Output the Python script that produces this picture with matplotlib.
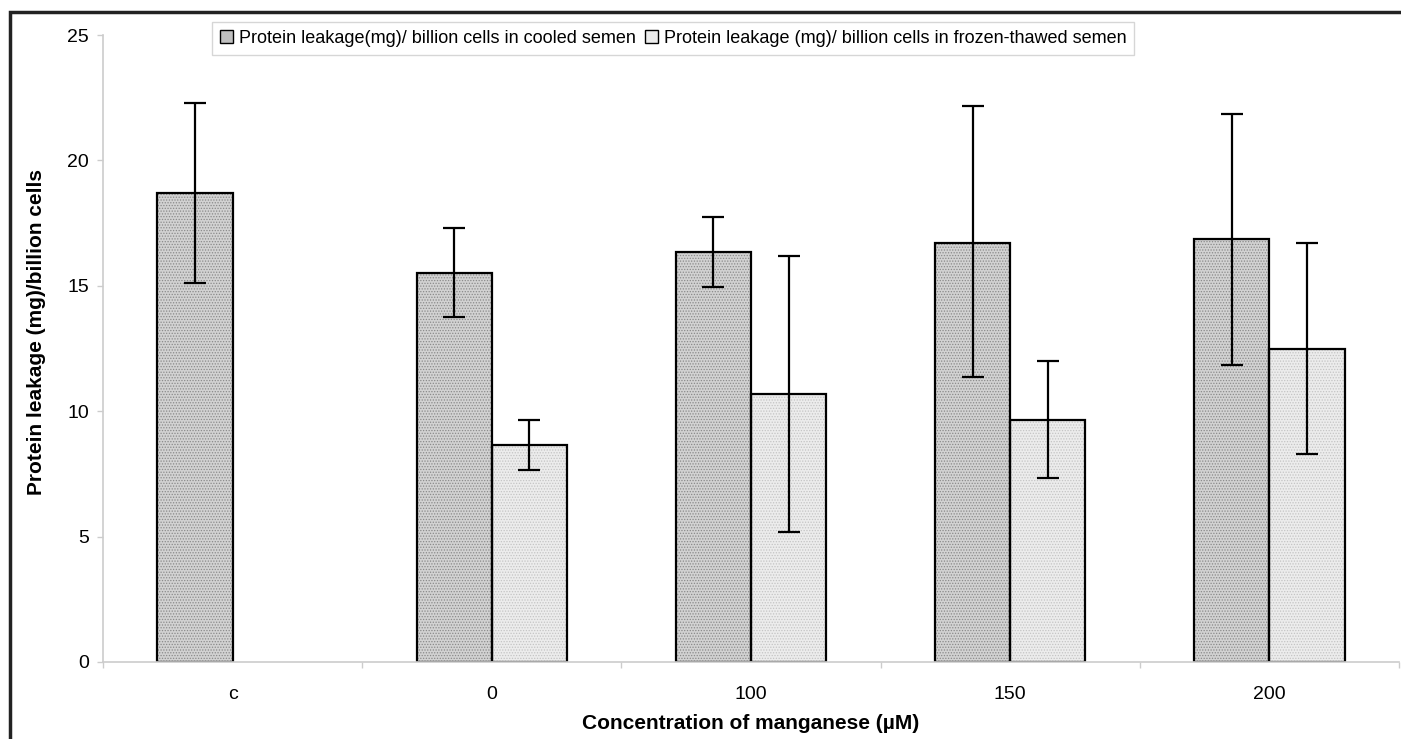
import matplotlib
matplotlib.use("Agg")
import matplotlib.pyplot as plt
from matplotlib.patches import Rectangle, Patch
import numpy as np

plt.rcParams["font.family"] = ["Liberation Sans", "DejaVu Sans"]
plt.rcParams["hatch.linewidth"] = 0.6

categories = ["c", "0", "100", "150", "200"]
cooled = [18.7, 15.5, 16.35, 16.7, 16.85]
cooled_hi = [22.3, 17.3, 17.75, 22.15, 21.85]
cooled_lo = [15.1, 13.75, 14.95, 11.35, 11.85]
frozen = [np.nan, 8.65, 10.7, 9.65, 12.5]
frozen_hi = [np.nan, 9.65, 16.2, 12.0, 16.7]
frozen_lo = [np.nan, 7.65, 5.2, 7.35, 8.3]

label_cooled = "Protein leakage(mg)/ billion cells in cooled semen"
label_frozen = "Protein leakage (mg)/ billion cells in frozen-thawed semen"

fig = plt.figure(figsize=(14.01, 7.39), dpi=100)
ax = fig.add_axes([103 / 1401, 77 / 739, 1296 / 1401, 627 / 739])

x = np.arange(len(categories))
w = 0.29

c_err = [np.array(cooled) - np.array(cooled_lo), np.array(cooled_hi) - np.array(cooled)]
f_err = [np.array(frozen) - np.array(frozen_lo), np.array(frozen_hi) - np.array(frozen)]

# stippled fill first, then the black outlines
ax.bar(x - w / 2, cooled, w, color="#d2d2d2", hatch="......", edgecolor="#8a8a8a",
       linewidth=0, zorder=2)
ax.bar(x + w / 2, frozen, w, color="#ececec", hatch="......", edgecolor="#c4c4c4",
       linewidth=0, zorder=2)
ax.bar(x - w / 2, cooled, w, fill=False, edgecolor="black", linewidth=1.6, zorder=2.5)
ax.bar(x + w / 2, frozen, w, fill=False, edgecolor="black", linewidth=1.6, zorder=2.5)
ax.errorbar(x - w / 2, cooled, yerr=c_err, fmt="none", ecolor="black",
            elinewidth=1.6, capsize=8, capthick=1.6, zorder=3)
ax.errorbar(x + w / 2, frozen, yerr=f_err, fmt="none", ecolor="black",
            elinewidth=1.6, capsize=8, capthick=1.6, zorder=3)

ax.set_xlim(-0.5, len(categories) - 0.5)
ax.set_ylim(0, 25)
ax.set_yticks([0, 5, 10, 15, 20, 25])
ax.set_xticks(x)
ax.set_xticklabels(categories)
ax.set_xticks(np.arange(-0.5, len(categories)), minor=True)
ax.tick_params(axis="x", which="major", length=0, pad=17, labelsize=14)
ax.tick_params(axis="x", which="minor", length=4, color="#cccccc", width=1)
ax.tick_params(axis="y", length=4, color="#cccccc", width=1, pad=6, labelsize=14)

for s in ["top", "right"]:
    ax.spines[s].set_visible(False)
for s in ["left", "bottom"]:
    ax.spines[s].set_color("#cccccc")
    ax.spines[s].set_linewidth(1.2)

ax.set_ylabel("Protein leakage (mg)/billion cells", fontsize=15, fontweight="bold")
ax.yaxis.set_label_coords(-0.044, 0.526)
ax.set_xlabel("Concentration of manganese (\u00b5M)", fontsize=15, fontweight="bold")
ax.xaxis.set_label_coords(0.5, -(714 - 662) / 627)

handles = [Patch(facecolor="#c0c0c0", edgecolor="black", linewidth=1),
           Patch(facecolor="#ececec", edgecolor="black", linewidth=1)]
leg = ax.legend(handles, [label_cooled, label_frozen], loc="upper center",
                bbox_to_anchor=(673 / 1401, 1 - 22 / 739),
                bbox_transform=fig.transFigure, ncol=2, fontsize=13,
                frameon=True, fancybox=False, handlelength=0.75, handleheight=0.75,
                handletextpad=0.3, columnspacing=0.5, borderpad=0.45, borderaxespad=0)
leg.get_frame().set_edgecolor("#cccccc")
leg.get_frame().set_linewidth(1)

# outer frame around the figure
fig.patches.append(Rectangle((10 / 1401, -0.2), 1.2, 1.2 - 12 / 739, transform=fig.transFigure,
                             fill=False, edgecolor="#222222", linewidth=2.5))

fig.savefig("out.png", dpi=100)
